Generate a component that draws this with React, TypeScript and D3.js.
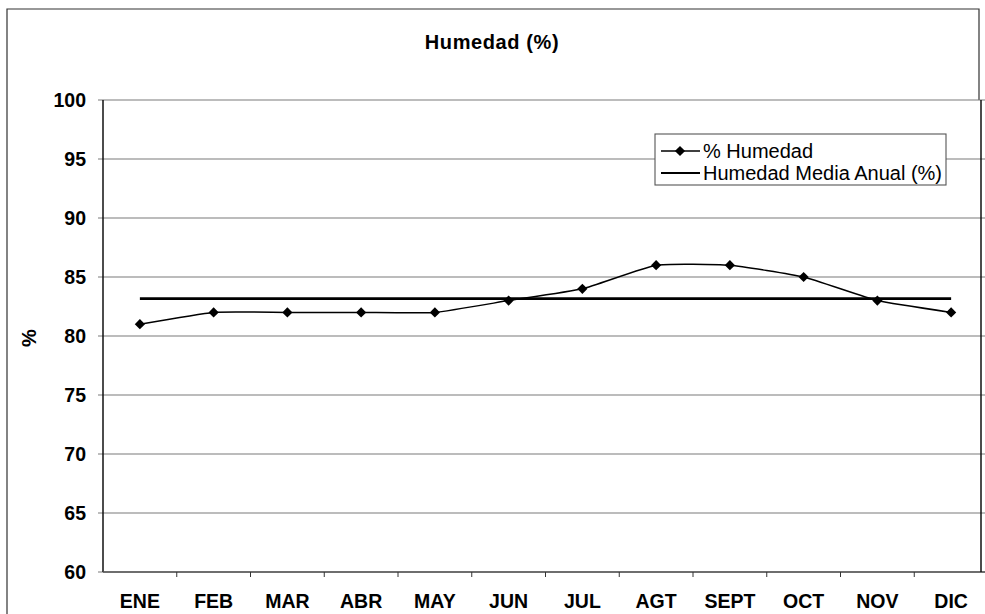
import React from "react";
import * as d3 from "d3";

const months = ["ENE", "FEB", "MAR", "ABR", "MAY", "JUN", "JUL", "AGT", "SEPT", "OCT", "NOV", "DIC"];
const humidity = [81, 82, 82, 82, 82, 83, 84, 86, 86, 85, 83, 82];
const meanAnnual = d3.mean(humidity) as number;
const yTicks = [60, 65, 70, 75, 80, 85, 90, 95, 100];
const seriesNames = ["% Humedad", "Humedad Media Anual (%)"];
const title = "Humedad (%)";
const yAxisTitle = "%";

const W = 985;
const H = 614;
const plotLeft = 103;
const plotRight = 988;
const plotTop = 100;
const plotBottom = 572;

export default function App() {
  const x = d3.scaleBand<string>().domain(months).range([plotLeft, plotRight]).padding(0);
  const y = d3.scaleLinear().domain([60, 100]).range([plotBottom, plotTop]);
  const cx = (m: string) => (x(m) as number) + x.bandwidth() / 2;

  const line = d3
    .line<number>()
    .x((_, i) => cx(months[i]))
    .y((d) => y(d))
    .curve(d3.curveCardinal.tension(0.55));

  const diamond = d3.symbol().type(d3.symbolSquare).size(52)() as string;
  const font = "'Liberation Sans', Arial, sans-serif";

  return (
    <svg
      width={W}
      height={H}
      style={{ position: "absolute", left: 0, top: 0, background: "#fff" }}
      fontFamily={font}
    >
      {/* outer chart border */}
      <path d={`M7,${H + 2} L7,9 L979,9 L979,${plotTop}`} fill="none" stroke="#333" strokeWidth={1.2} />

      <text x={492} y={42} textAnchor="middle" dominantBaseline="central" fontSize={20} fontWeight="bold" letterSpacing={0.6}>
        {title}
      </text>

      {/* gridlines */}
      {yTicks.map((t) => (
        <line key={t} x1={plotLeft - 5} x2={plotRight} y1={y(t)} y2={y(t)} stroke="#7a7a7a" strokeWidth={1.1} />
      ))}

      {/* axes */}
      <line x1={plotLeft} x2={plotLeft} y1={plotTop} y2={plotBottom} stroke="#111" strokeWidth={1.5} />
      <line x1={plotLeft} x2={plotRight} y1={plotBottom} y2={plotBottom} stroke="#555" strokeWidth={1.3} />
      <line x1={981} x2={981} y1={plotTop} y2={plotBottom} stroke="#111" strokeWidth={1.5} />

      {yTicks.map((t) => (
        <text key={t} x={86} y={y(t)} textAnchor="end" dominantBaseline="central" fontSize={19.5} fontWeight="bold">
          {t}
        </text>
      ))}

      {months.map((m, i) =>
        i > 0 ? (
          <line key={"tk" + m} x1={x(m) as number} x2={x(m) as number} y1={plotBottom} y2={plotBottom + 5} stroke="#333" strokeWidth={1} />
        ) : null
      )}
      {months.map((m) => (
        <text key={m} x={cx(m)} y={601} textAnchor="middle" dominantBaseline="central" fontSize={19.5} fontWeight="bold">
          {m}
        </text>
      ))}

      <text
        transform={`translate(29,338) rotate(-90)`}
        textAnchor="middle"
        dominantBaseline="central"
        fontSize={20}
        fontWeight="bold"
      >
        {yAxisTitle}
      </text>

      {/* mean line */}
      <line x1={cx(months[0])} x2={cx(months[months.length - 1])} y1={y(meanAnnual)} y2={y(meanAnnual)} stroke="#000" strokeWidth={2.6} />

      {/* humidity series */}
      <path d={line(humidity) as string} fill="none" stroke="#000" strokeWidth={1.5} />
      {humidity.map((v, i) => (
        <path key={i} d={diamond} transform={`translate(${cx(months[i])},${y(v)}) rotate(45)`} fill="#000" />
      ))}

      {/* legend */}
      <rect x={655} y={134} width={291} height={51} fill="#fff" stroke="#555" strokeWidth={1.1} />
      <line x1={661} x2={700} y1={151} y2={151} stroke="#000" strokeWidth={1.5} />
      <path d={diamond} transform="translate(680,151) rotate(45)" fill="#000" />
      <text x={703} y={151} dominantBaseline="central" fontSize={20}>
        {seriesNames[0]}
      </text>
      <line x1={661} x2={700} y1={173} y2={173} stroke="#000" strokeWidth={2.2} />
      <text x={703} y={173} dominantBaseline="central" fontSize={20}>
        {seriesNames[1]}
      </text>
    </svg>
  );
}
